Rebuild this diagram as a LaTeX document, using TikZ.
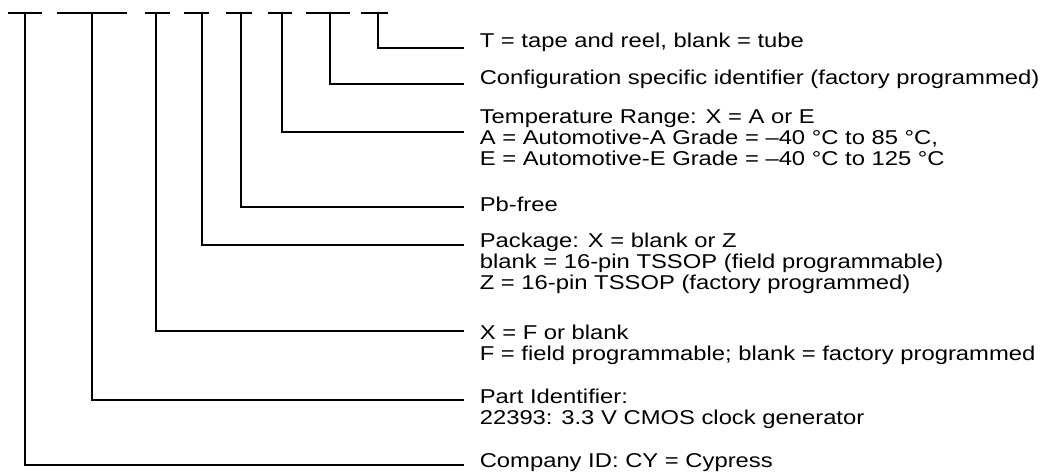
\documentclass[tikz,border=0pt]{standalone}
\usepackage{fontspec}
\setmainfont{Liberation Sans}[FakeStretch=1.19]
\usetikzlibrary{positioning}

\begin{document}
\begin{tikzpicture}[x=1pt, y=-1pt, line width=1.6pt,
  txt/.style={anchor=base west, align=left, inner sep=0pt,
    font=\fontsize{20}{21}\selectfont}]
\useasboundingbox (0,0) rectangle (1044,472);

% field bars along the top
\draw (8,13) -- (42,13);
\draw (57,13) -- (127,13);
\draw (145,13) -- (170,13);
\draw (184,13) -- (209,13);
\draw (226,13) -- (252,13);
\draw (268,13) -- (292,13);
\draw (306,13) -- (350,13);
\draw (361,13) -- (388,13);

% tick points under the bars
\foreach \n/\x in {1/25,2/92,3/156,4/202,5/241,6/282,7/330,8/378}
  \coordinate (t\n) at (\x,13);

% line ends
\foreach \n/\y in {1/465,2/400,3/331,4/245,5/207,6/132,7/84,8/48}
  \coordinate (e\n) at (464,\y);

% descriptions (base = last line)
\node[txt] (tape) at (479,47) {T = tape and reel, blank = tube};
\node[txt] (config) at (479,84) {Configuration specific identifier (factory programmed)};
\node[txt] (temp) at (479,165) {Temperature Range: X = A or E\\
  A = Automotive-A Grade = –40 °C to 85 °C,\\
  E = Automotive-E Grade = –40 °C to 125 °C};
\node[txt] (pbfree) at (479,211) {Pb-free};
\node[txt] (pkg) at (479,289) {Package: X = blank or Z\\
  blank = 16-pin TSSOP (field programmable)\\
  Z = 16-pin TSSOP (factory programmed)};
\node[txt] (prog) at (479,360) {X = F or blank\\
  F = field programmable; blank = factory programmed};
\node[txt] (part) at (479,424) {Part Identifier:\\
  22393: 3.3 V CMOS clock generator};
\node[txt] (company) at (479,467) {Company ID: CY = Cypress};

% leaders
\foreach \n in {1,...,8}
  \draw (t\n) |- (e\n);

\end{tikzpicture}
\end{document}
